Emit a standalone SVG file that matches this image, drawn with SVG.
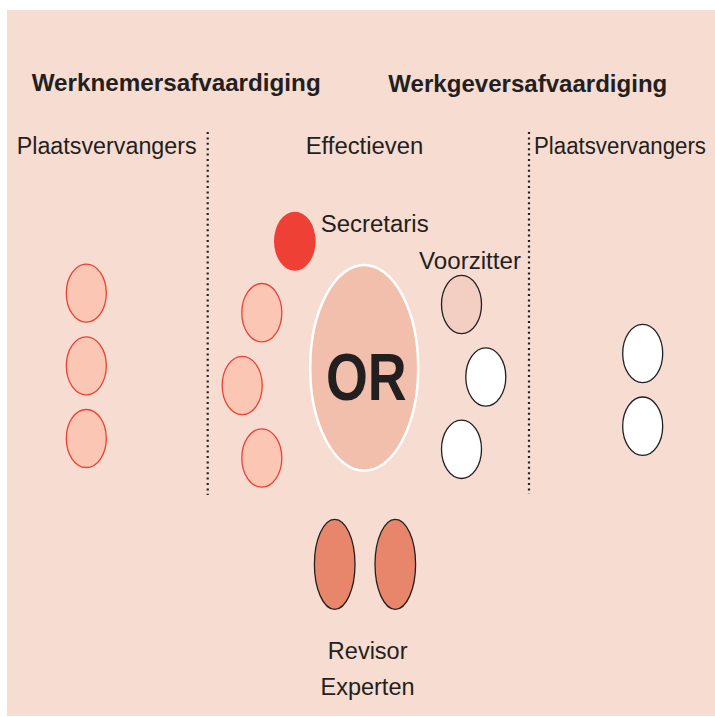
<svg xmlns="http://www.w3.org/2000/svg" width="715" height="717" viewBox="0 0 715 717">
  <style>
    text { font-family: "Liberation Sans", Arial, sans-serif; fill: #231F20; }
    .head { font-size: 24px; font-weight: bold; }
    .lbl { font-size: 23.5px; }
    .mid { text-anchor: middle; }
    .emp { fill: #FBC6B3; stroke: #EE4035; stroke-width: 1.3; }
    .boss { fill: #FFFFFF; stroke: #231F20; stroke-width: 1.3; }
    .divider { stroke: #231F20; stroke-width: 2.2; stroke-dasharray: 2 3.4; fill: none; }
  </style>

  <!-- backdrop -->
  <rect x="7" y="10" width="708" height="706" fill="#F7DCD1"/>

  <!-- section dividers -->
  <g id="connectors">
    <line class="divider" x1="207.7" y1="132" x2="207.7" y2="495"/>
    <line class="divider" x1="529" y1="132" x2="529" y2="494"/>
  </g>

  <!-- headings -->
  <g id="headings">
    <text class="head" x="31.7" y="91" textLength="289" lengthAdjust="spacingAndGlyphs">Werknemersafvaardiging</text>
    <text class="head" x="388.3" y="92" textLength="279" lengthAdjust="spacingAndGlyphs">Werkgeversafvaardiging</text>
    <text class="lbl" x="16.7" y="154" textLength="180" lengthAdjust="spacingAndGlyphs">Plaatsvervangers</text>
    <text class="lbl" x="305.7" y="154" textLength="117.6" lengthAdjust="spacingAndGlyphs">Effectieven</text>
    <text class="lbl" x="534" y="154" font-size="22.5px" textLength="172" lengthAdjust="spacingAndGlyphs">Plaatsvervangers</text>
  </g>

  <!-- employee substitutes -->
  <g id="emp-sub-1"><ellipse class="emp" cx="86.3" cy="293.2" rx="20" ry="29"/></g>
  <g id="emp-sub-2"><ellipse class="emp" cx="86.3" cy="365.8" rx="20" ry="29"/></g>
  <g id="emp-sub-3"><ellipse class="emp" cx="86.3" cy="438.5" rx="20" ry="29"/></g>

  <!-- employee members -->
  <g id="emp-eff-1"><ellipse class="emp" cx="261.8" cy="312.7" rx="20" ry="29.2"/></g>
  <g id="emp-eff-2"><ellipse class="emp" cx="242.2" cy="385.5" rx="20" ry="29.2"/></g>
  <g id="emp-eff-3"><ellipse class="emp" cx="261.8" cy="458" rx="20" ry="29.2"/></g>

  <!-- secretary -->
  <g id="secretaris">
    <ellipse cx="294.8" cy="241.2" rx="20.8" ry="29.5" fill="#EE4035"/>
    <text class="lbl" x="320.7" y="231.7" textLength="108" lengthAdjust="spacingAndGlyphs">Secretaris</text>
  </g>

  <!-- works council -->
  <g id="or">
    <ellipse cx="364.2" cy="367.8" rx="54" ry="102.8" fill="#F3BFAD" stroke="#FFFFFF" stroke-width="2.5"/>
    <text class="mid" x="366.3" y="400" font-size="66" font-weight="bold" textLength="80.7" lengthAdjust="spacingAndGlyphs">OR</text>
  </g>

  <!-- chair -->
  <g id="voorzitter">
    <ellipse cx="461.5" cy="304.5" rx="20" ry="29.2" fill="#F3CFC3" stroke="#231F20" stroke-width="1.3"/>
    <text class="lbl" x="419" y="269.3" textLength="102" lengthAdjust="spacingAndGlyphs">Voorzitter</text>
  </g>

  <!-- employer members -->
  <g id="wg-eff-1"><ellipse class="boss" cx="485.8" cy="377" rx="20" ry="29.2"/></g>
  <g id="wg-eff-2"><ellipse class="boss" cx="461.5" cy="449.3" rx="20" ry="29.2"/></g>

  <!-- employer substitutes -->
  <g id="wg-sub-1"><ellipse class="boss" cx="642.7" cy="353.5" rx="20" ry="29.2"/></g>
  <g id="wg-sub-2"><ellipse class="boss" cx="642.7" cy="426.2" rx="20" ry="29.2"/></g>

  <!-- auditor and experts -->
  <g id="revisor">
    <ellipse cx="334.7" cy="564.3" rx="20.3" ry="45" fill="#E8866C" stroke="#231F20" stroke-width="1.3"/>
  </g>
  <g id="experten">
    <ellipse cx="395.3" cy="564.3" rx="20.3" ry="45" fill="#E8866C" stroke="#231F20" stroke-width="1.3"/>
  </g>
  <g id="bottom-labels">
    <text class="lbl mid" x="367.7" y="659.3">Revisor</text>
    <text class="lbl mid" x="367.5" y="695">Experten</text>
  </g>
</svg>
